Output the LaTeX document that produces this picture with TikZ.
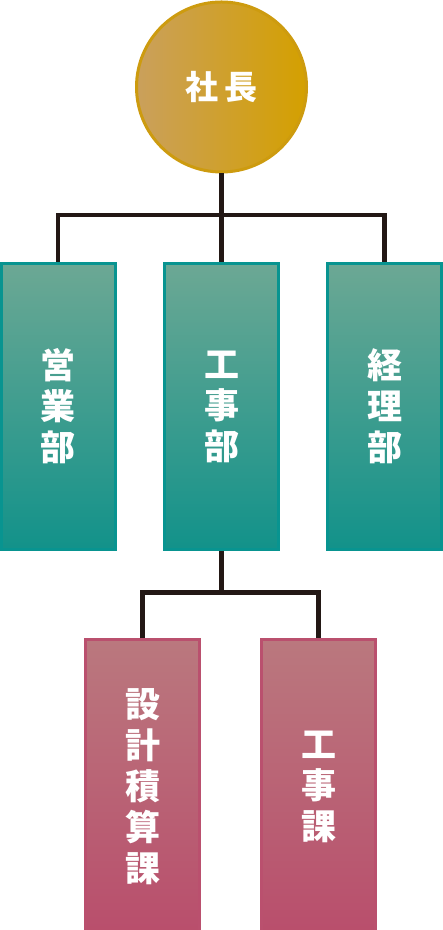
\documentclass[tikz,border=0pt]{standalone}
\usepackage{fontspec}
\newfontfamily\jpfont{Noto Sans CJK JP}
\usetikzlibrary{positioning,calc,shapes}
\definecolor{goldL}{RGB}{202,160,92}
\definecolor{goldR}{RGB}{212,160,0}
\definecolor{goldB}{RGB}{205,155,15}
\definecolor{tealT}{RGB}{108,168,148}
\definecolor{tealD}{RGB}{18,146,138}
\definecolor{tealB}{RGB}{8,148,144}
\definecolor{roseT}{RGB}{186,120,126}
\definecolor{roseD}{RGB}{185,78,108}
\definecolor{roseB}{RGB}{186,80,110}
\definecolor{linec}{RGB}{35,24,21}

\begin{document}
\begin{tikzpicture}[x=0.5pt,y=0.5pt,
    boss/.style={circle, draw=goldB, line width=1.5pt, left color=goldL, right color=goldR,
        minimum size=85pt, inner sep=0pt, text=white, font=\jpfont\bfseries\fontsize{16.5}{20}\selectfont},
    dept/.style={draw=tealB, line width=1.5pt, top color=tealT, bottom color=tealD,
        minimum width=57pt, minimum height=143pt, inner sep=0pt, text=white, align=center,
        font=\jpfont\bfseries\fontsize{17.5}{20.5}\selectfont},
    sect/.style={dept, draw=roseB, top color=roseT, bottom color=roseD, minimum height=147pt},
    conn/.style={draw=linec, line width=2.25pt}]
    \useasboundingbox (0,0) rectangle (443,930);
    % top
    \node[boss] (shacho) at (221.5,843) {社\hspace{3pt}長};
    % departments
    \foreach \x/\name/\txt in {58/eigyo/営\\業\\部, 221.5/koji/工\\事\\部, 384.5/keiri/経\\理\\部}
        \node[dept] (\name) at (\x,523.5) {\txt};
    % sections
    \foreach \x/\name/\txt in {142.5/sekkei/設\\計\\積\\算\\課, 318.5/kojika/工\\事\\課}
        \node[sect] (\name) at (\x,143) {\txt};
    % connectors
    \coordinate (bar) at (221.5,715);
    \coordinate (bar2) at (221.5,337.5);
    \draw[conn] (shacho) -- (koji);
    \draw[conn] (eigyo.north) |- (bar) -| (keiri.north);
    \draw[conn] (koji.south) -- (bar2);
    \draw[conn] (sekkei.north) |- (bar2) -| (kojika.north);
\end{tikzpicture}
\end{document}
